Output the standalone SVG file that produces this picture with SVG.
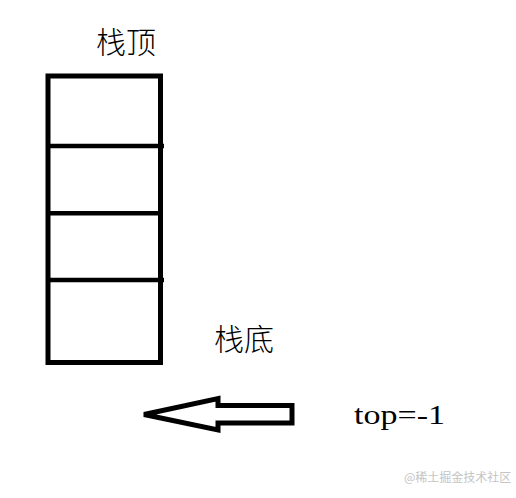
<svg xmlns="http://www.w3.org/2000/svg" width="516" height="498" viewBox="0 0 516 498">
<style>
.cell{fill:none;stroke:#000;stroke-width:5}
.div{stroke:#000;stroke-width:4.5}
.lbl{font-family:"Noto Sans CJK SC","Liberation Sans",sans-serif;font-size:30px;font-weight:300;fill:#000}
.code{font-family:"Liberation Serif",serif;font-size:28px;fill:#000}
.wm{font-family:"Noto Sans CJK SC",sans-serif;font-size:12px;fill:#c4c4c4}
</style>
<rect width="516" height="498" fill="#fff"/>
<g id="stack">
<rect class="cell" x="48" y="76" width="112.5" height="286.5"/>
<line class="div" x1="48" y1="146" x2="164" y2="146"/>
<line class="div" x1="48" y1="213.3" x2="162" y2="213.3"/>
<line class="div" x1="48" y1="280" x2="164" y2="280"/>
</g>
<g id="label-top"><text class="lbl" x="96" y="53">栈顶</text></g>
<g id="label-bottom"><text class="lbl" x="214" y="350">栈底</text></g>
<g id="connectors">
<polygon points="144,414.5 218,398.5 218,405.5 292,405.5 292,423 218,423 218,430" fill="none" stroke="#000" stroke-width="5" stroke-linejoin="miter"/>
</g>
<g id="label-topvar"><text class="code" x="354" y="424" textLength="91" lengthAdjust="spacingAndGlyphs">top=-1</text></g>
<text class="wm" x="404" y="482">@稀土掘金技术社区</text>
</svg>
